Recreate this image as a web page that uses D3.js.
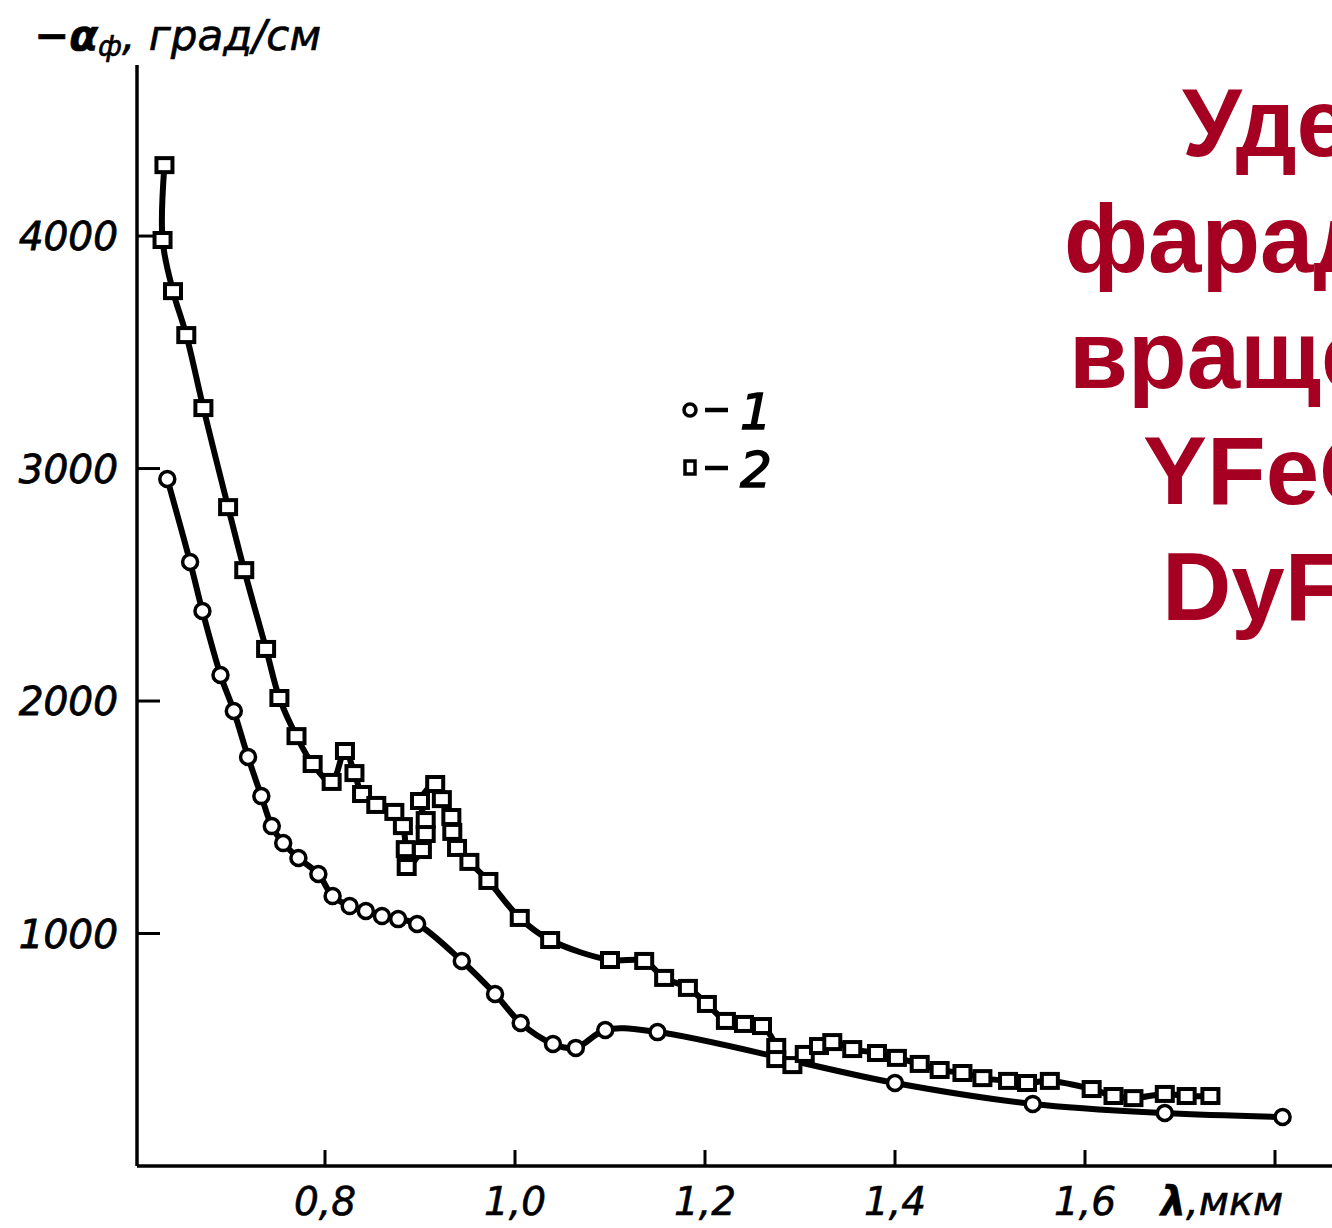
<!DOCTYPE html>
<html>
<head>
<meta charset="utf-8">
<script src="https://cdn.jsdelivr.net/npm/d3@7"></script>
<style>
  body { margin: 0; background: #fff; }
  svg { display: block; }
</style>
</head>
<body>
<svg width="1332" height="1228"></svg>
<script>
// curve 1 (circles)
var lambda1 = [0.634, 0.658, 0.671, 0.690, 0.704, 0.719, 0.733, 0.744, 0.756, 0.772,
               0.793, 0.808, 0.826, 0.843, 0.860, 0.877, 0.897, 0.944, 0.979, 1.006,
               1.040, 1.064, 1.095, 1.150, 1.400, 1.545, 1.684, 1.808];
var alpha1  = [2955, 2598, 2387, 2112, 1957, 1759, 1591, 1462, 1389, 1325,
               1256, 1161, 1118, 1097, 1075, 1062, 1041, 882, 740, 615,
               525, 508, 585, 576, 357, 267, 228, 211];

// curve 2 (squares), in drawing order
var lambda2 = [0.631, 0.629, 0.640, 0.654, 0.672, 0.698, 0.715, 0.738, 0.752, 0.770,
               0.787, 0.807, 0.821, 0.831, 0.839, 0.854, 0.873, 0.882, 0.885, 0.886,
               0.902, 0.906, 0.906, 0.900, 0.916, 0.923, 0.933, 0.934, 0.939, 0.952,
               0.972, 1.005, 1.037, 1.100, 1.136, 1.157, 1.182, 1.202, 1.222, 1.241,
               1.260, 1.275, 1.275, 1.292, 1.305, 1.320, 1.334, 1.355, 1.381, 1.402,
               1.426, 1.447, 1.471, 1.492, 1.519, 1.539, 1.563, 1.607, 1.630, 1.651,
               1.684, 1.707, 1.732];
var alpha2  = [4305, 3983, 3763, 3574, 3260, 2834, 2563, 2224, 2013, 1849,
               1729, 1652, 1785, 1690, 1600, 1553, 1523, 1462, 1363, 1286,
               1359, 1428, 1488, 1570, 1643, 1578, 1501, 1437, 1368, 1308,
               1226, 1067, 972, 886, 882, 809, 766, 697, 624, 611,
               602, 512, 460, 434, 482, 516, 533, 503, 486, 465,
               439, 413, 400, 378, 366, 357, 366, 331, 301, 292,
               310, 301, 301];

var xTicks = [0.8, 1.0, 1.2, 1.4, 1.6, 1.8];
var xTickLabels = ["0,8", "1,0", "1,2", "1,4", "1,6", ""];
var yTicks = [1000, 2000, 3000, 4000];
var legendLabels = ["1", "2"];
var titleLines = ["Удельное", "фарадеевское", "вращение", "YFeO3 и", "DyFeO3"];

var svg = d3.select("svg");

var x = d3.scaleLinear().domain([0.6, 1.8]).range([135, 1275]);
var y = d3.scaleLinear().domain([0, 4700]).range([1166, 73.3]);

var axisColor = "#000";
var italicFont = "'DejaVu Sans', sans-serif";

// axes
svg.append("line")
    .attr("x1", 137).attr("y1", 65).attr("x2", 137).attr("y2", y(0))
    .attr("stroke", axisColor).attr("stroke-width", 3.5);
svg.append("line")
    .attr("x1", 137).attr("y1", y(0)).attr("x2", 1332).attr("y2", y(0))
    .attr("stroke", axisColor).attr("stroke-width", 3.5);

svg.selectAll("line.ytick").data(yTicks).enter()
    .append("line")
    .attr("class", "ytick")
    .attr("x1", 137).attr("x2", 160)
    .attr("y1", function(d) { return y(d); })
    .attr("y2", function(d) { return y(d); })
    .attr("stroke", axisColor).attr("stroke-width", 3);

svg.selectAll("text.ytick").data(yTicks).enter()
    .append("text")
    .attr("class", "ytick")
    .attr("x", 118)
    .attr("y", function(d) { return y(d) + 14; })
    .attr("text-anchor", "end")
    .attr("font-family", italicFont)
    .attr("font-style", "italic")
    .attr("font-size", 39)
    .attr("stroke", "#000").attr("stroke-width", 0.8)
    .text(function(d) { return d; });

svg.selectAll("line.xtick").data(xTicks).enter()
    .append("line")
    .attr("class", "xtick")
    .attr("x1", function(d) { return x(d); })
    .attr("x2", function(d) { return x(d); })
    .attr("y1", y(0)).attr("y2", y(0) - 16)
    .attr("stroke", axisColor).attr("stroke-width", 3);

svg.selectAll("text.xtick").data(xTicks).enter()
    .append("text")
    .attr("class", "xtick")
    .attr("x", function(d) { return x(d); })
    .attr("y", 1215)
    .attr("text-anchor", "middle")
    .attr("font-family", italicFont)
    .attr("font-style", "italic")
    .attr("font-size", 39)
    .attr("stroke", "#000").attr("stroke-width", 0.6)
    .text(function(d, i) { return xTickLabels[i]; });

// axis titles
svg.append("text")
    .attr("x", 1222).attr("y", 1215)
    .attr("text-anchor", "middle")
    .attr("font-family", italicFont)
    .attr("font-style", "italic")
    .attr("font-size", 40)
    .attr("stroke", "#000").attr("stroke-width", 0.6)
    .html("<tspan font-weight='bold'>λ</tspan>,мкм");

var yTitle = svg.append("text")
    .attr("x", 34).attr("y", 50)
    .attr("font-family", italicFont)
    .attr("font-style", "italic")
    .attr("font-size", 42)
    .attr("stroke", "#000").attr("stroke-width", 0.6);
yTitle.append("tspan").attr("font-weight", "bold").text("−α");
yTitle.append("tspan").attr("font-size", 28).attr("dy", 6).text("ф");
yTitle.append("tspan").attr("dy", -6).text(", град/см");

// curves
var line = d3.line()
    .x(function(d) { return x(d[0]); })
    .y(function(d) { return y(d[1]); })
    .curve(d3.curveCatmullRom.alpha(0.5));

var pts1 = lambda1.map(function(l, i) { return [l, alpha1[i]]; });
var pts2 = lambda2.map(function(l, i) { return [l, alpha2[i]]; });

svg.append("path").datum(pts1)
    .attr("d", line)
    .attr("fill", "none").attr("stroke", "#000").attr("stroke-width", 6);
svg.append("path").datum(pts2)
    .attr("d", line)
    .attr("fill", "none").attr("stroke", "#000").attr("stroke-width", 6);

svg.selectAll("circle.p1").data(pts1).enter()
    .append("circle")
    .attr("class", "p1")
    .attr("cx", function(d) { return x(d[0]); })
    .attr("cy", function(d) { return y(d[1]); })
    .attr("r", 7.5)
    .attr("fill", "#fff").attr("stroke", "#000").attr("stroke-width", 3.5);

svg.selectAll("rect.p2").data(pts2).enter()
    .append("rect")
    .attr("class", "p2")
    .attr("x", function(d) { return x(d[0]) - 8; })
    .attr("y", function(d) { return y(d[1]) - 7; })
    .attr("width", 16).attr("height", 14)
    .attr("fill", "#fff").attr("stroke", "#000").attr("stroke-width", 4);

// legend
var legend = svg.append("g").attr("transform", "translate(690,410)");
legend.append("circle").attr("cx", 0).attr("cy", 0).attr("r", 6)
    .attr("fill", "#fff").attr("stroke", "#000").attr("stroke-width", 3.5);
legend.append("rect").attr("x", -5).attr("y", 51).attr("width", 10).attr("height", 13)
    .attr("fill", "#fff").attr("stroke", "#000").attr("stroke-width", 3.5);
legend.selectAll("line.dash").data(legendLabels).enter()
    .append("line")
    .attr("x1", 15).attr("x2", 38)
    .attr("y1", function(d, i) { return i * 58; })
    .attr("y2", function(d, i) { return i * 58; })
    .attr("stroke", "#000").attr("stroke-width", 4.5);
legend.selectAll("text").data(legendLabels).enter()
    .append("text")
    .attr("x", 50)
    .attr("y", function(d, i) { return i * 58 + 19; })
    .attr("font-family", italicFont)
    .attr("font-style", "italic")
    .attr("font-size", 50)
    .attr("stroke", "#000").attr("stroke-width", 1.5)
    .text(function(d) { return d; });

// slide title, cut by the right edge
var titleX = [1182, 1064, 1069, 1143, 1162];
svg.selectAll("text.title").data(titleLines).enter()
    .append("text")
    .attr("class", "title")
    .attr("x", function(d, i) { return titleX[i]; })
    .attr("y", function(d, i) { return 156 + i * 116; })
    .attr("font-family", "'Liberation Sans', Arial, sans-serif")
    .attr("font-weight", "bold")
    .attr("font-size", 96)
    .attr("fill", "#A50021")
    .text(function(d) { return d; });
</script>
</body>
</html>
